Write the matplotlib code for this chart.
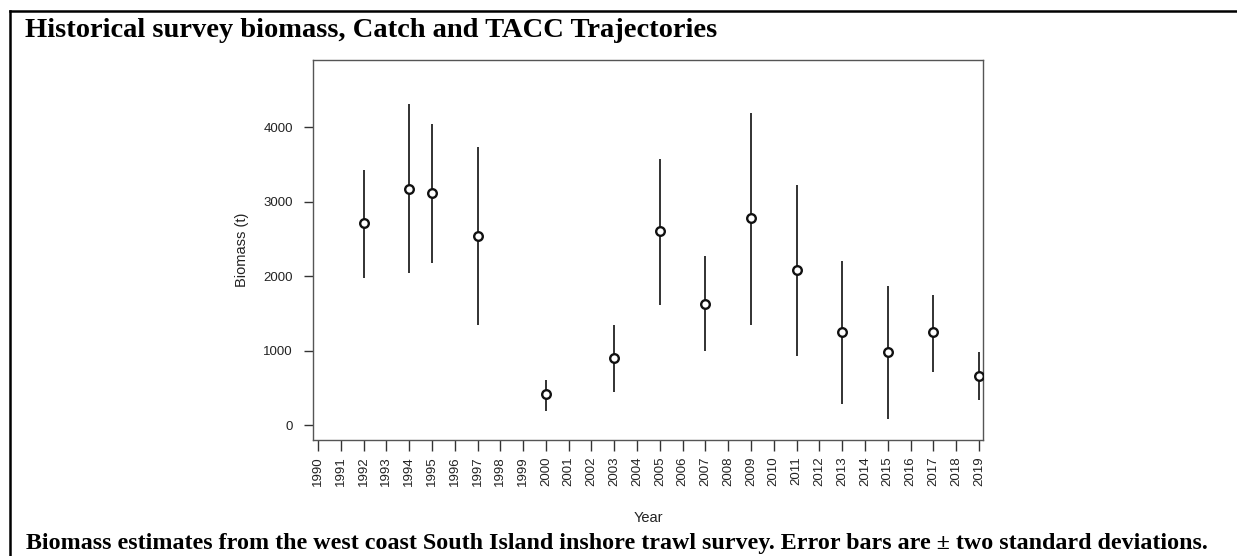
import matplotlib
matplotlib.use("Agg")
import matplotlib.pyplot as plt
from matplotlib.lines import Line2D

## survey data
years = [1992, 1994, 1995, 1997, 2000, 2003, 2005, 2007, 2009, 2011, 2013, 2015, 2017, 2019]
biomass = [2717, 3173, 3119, 2547, 416, 907, 2605, 1635, 2784, 2082, 1251, 983, 1251, 670]
lower = [1980, 2047, 2181, 1354, 192, 447, 1622, 997, 1354, 929, 282, 89, 715, 339]
upper = [3432, 4316, 4048, 3736, 607, 1354, 3575, 2270, 4200, 3231, 2203, 1868, 1756, 983]
tick_years = list(range(1990, 2020))
y_ticks = [0, 1000, 2000, 3000, 4000]

title = "Historical survey biomass, Catch and TACC Trajectories"
caption = ("Biomass estimates from the west coast South Island inshore trawl survey. "
           "Error bars are \u00b1 two standard deviations.")

W, H = 1237, 556
fig = plt.figure(figsize=(W / 100, H / 100), dpi=100)

# axes box in pixels: left 313, right 983, top 60, bottom 440
ax = fig.add_axes([313 / W, 1 - 440 / H, (983 - 313) / W, (440 - 60) / H])

ax.vlines(years, lower, upper, color="#222222", lw=1.3)
ax.plot(years, biomass, "o", mfc="white", mec="#111111", ms=6.2, mew=1.7, zorder=3)

ax.set_xlim(1989.78, 2019.18)
ax.set_ylim(-195, 4905)

sans = "Liberation Sans"
ax.set_xticks(tick_years)
ax.set_xticklabels([str(y) for y in tick_years], rotation=90, fontsize=9.5,
                   family=sans, color="#222222")
ax.set_yticks(y_ticks)
ax.set_yticklabels([str(v) for v in y_ticks], fontsize=9.5, family=sans, color="#222222")
ax.tick_params(axis="x", length=8, width=1, color="#333333", pad=4)
ax.tick_params(axis="y", length=6.5, width=1, color="#333333", pad=8)

for s in ax.spines.values():
    s.set_color("#555555")
    s.set_linewidth(1.0)

ax.set_xlabel("Year", fontsize=10.5, family=sans, color="#222222")
ax.xaxis.set_label_coords(0.5, (440 - 518) / 380)
ax.xaxis.label.set_va("center")
ax.set_ylabel("Biomass (t)", fontsize=10.5, family=sans, color="#222222")
ax.yaxis.set_label_coords((242 - 313) / 670, 0.5)
ax.yaxis.label.set_va("center")

# outer frame (only top and left edges visible)
fig.add_artist(Line2D([10 / W, 1], [1 - 11 / H, 1 - 11 / H], color="black", lw=1.8,
                      transform=fig.transFigure))
fig.add_artist(Line2D([10 / W, 10 / W], [1 - 11 / H, 0], color="black", lw=1.8,
                      transform=fig.transFigure))

serif = "Liberation Serif"
fig.text(25 / W, 1 - 37 / H, title, fontsize=20.5, fontweight="bold", family=serif,
         ha="left", va="baseline")
fig.text(0.499, 1 - 549 / H, caption, fontsize=17.3, fontweight="bold", family=serif,
         ha="center", va="baseline")

fig.savefig("out.png", dpi=100)
